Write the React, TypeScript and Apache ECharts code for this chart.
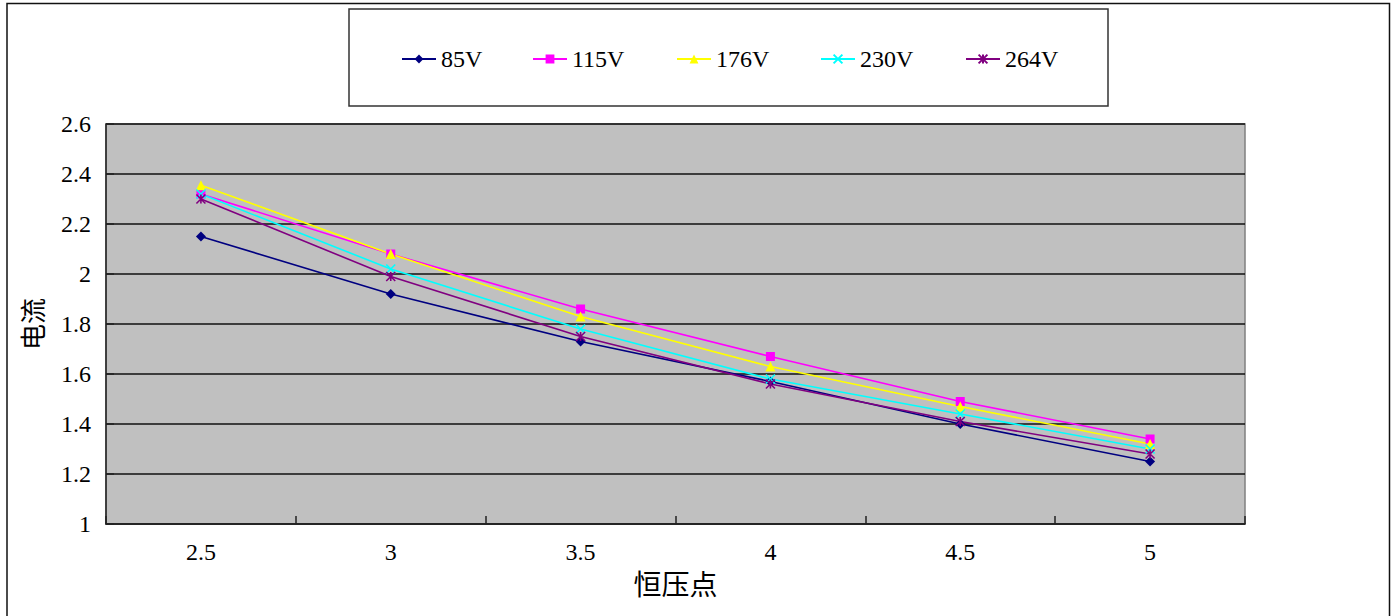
import React, { useEffect, useRef } from "react";
import * as echarts from "echarts";

const categories = ["2.5", "3", "3.5", "4", "4.5", "5"];
const seriesNames = ["85V", "115V", "176V", "230V", "264V"];
const v85 = [2.15, 1.92, 1.73, 1.57, 1.4, 1.25];
const v115 = [2.32, 2.08, 1.86, 1.67, 1.49, 1.34];
const v176 = [2.355, 2.08, 1.83, 1.63, 1.47, 1.32];
const v230 = [2.32, 2.02, 1.78, 1.58, 1.44, 1.3];
const v264 = [2.3, 1.99, 1.75, 1.56, 1.41, 1.28];
const seriesValues = [v85, v115, v176, v230, v264];
const colors = ["#000080", "#FF00FF", "#FFFF00", "#00FFFF", "#800080"];
const symbols = [
  "diamond",
  "rect",
  "triangle",
  "path://M0,0 L10,10 M10,0 L0,10",
  "path://M0,0 L10,10 M10,0 L0,10 M5,0 L5,10",
];
const symbolSizes = [10, 9, 10, 9, 9];
const legendLefts = [396, 527, 671, 815, 960];

const SERIF = "Liberation Serif";
const CJK = "Noto Sans CJK SC";

const labelRich = {
  t: { fontSize: 24, fontFamily: SERIF, color: "#000" },
};

export default function App() {
  const ref = useRef<HTMLDivElement>(null);
  useEffect(() => {
    if (!ref.current) return;
    const chart = echarts.init(ref.current, undefined, { renderer: "svg" });
    const series = seriesNames.map((name, i) => {
      const isStroke = i >= 3;
      return {
        name,
        type: "line",
        data: seriesValues[i],
        symbol: symbols[i],
        symbolSize: symbolSizes[i],
        showSymbol: true,
        lineStyle: { color: colors[i], width: 1.6 },
        itemStyle: isStroke
          ? { color: colors[i], borderColor: colors[i], borderWidth: 1.6 }
          : { color: colors[i], borderWidth: 0 },
        emphasis: { disabled: true },
      };
    });
    const legends = seriesNames.map((name, i) => ({
      data: [name],
      left: legendLefts[i],
      top: 42,
      orient: "horizontal",
      itemWidth: 34,
      itemHeight: 11,
      itemGap: 8,
      textStyle: { fontSize: 24, fontFamily: SERIF, color: "#000" },
      selectedMode: false,
    }));
    chart.setOption({
      animation: false,
      backgroundColor: "#fff",
      textStyle: { fontFamily: SERIF },
      graphic: [
        {
          type: "rect",
          shape: { x: 7, y: 3.5, width: 1382.5, height: 700 },
          style: { fill: "none", stroke: "#111", lineWidth: 1.5 },
          z: 100,
        },
        {
          type: "rect",
          shape: { x: 349, y: 9, width: 759, height: 97 },
          style: { fill: "none", stroke: "#333", lineWidth: 1.5 },
          z: 100,
        },
      ],
      legend: legends,
      grid: {
        left: 106,
        top: 124,
        width: 1139,
        height: 400,
        show: true,
        backgroundColor: "#C0C0C0",
        borderColor: "#808080",
        borderWidth: 1.5,
      },
      xAxis: {
        type: "category",
        data: categories,
        boundaryGap: true,
        name: "恒压点",
        nameLocation: "middle",
        nameGap: 42,
        nameTextStyle: { fontSize: 28, fontFamily: CJK, color: "#000" },
        axisLine: { show: true, lineStyle: { color: "#222", width: 1.5 } },
        axisTick: { show: true, inside: true, length: 8, lineStyle: { color: "#222", width: 1.5 } },
        axisLabel: {
          margin: 16,
          fontSize: 24,
          fontFamily: SERIF,
          color: "#000",
          formatter: (v: string) => "{t|" + v + "}",
          rich: labelRich,
        },
        splitLine: { show: false },
      },
      yAxis: {
        type: "value",
        min: 1,
        max: 2.6,
        interval: 0.2,
        name: "电流",
        nameLocation: "middle",
        nameRotate: 90,
        nameGap: 62,
        nameTextStyle: { fontSize: 26, fontFamily: CJK, color: "#000" },
        axisLine: { show: true, lineStyle: { color: "#222", width: 1.5 } },
        axisTick: { show: true, inside: true, length: 8, lineStyle: { color: "#222", width: 1.5 } },
        axisLabel: {
          margin: 15,
          fontSize: 24,
          fontFamily: SERIF,
          color: "#000",
          formatter: (v: number) => "{t|" + (Math.round(v * 10) / 10).toString() + "}",
          rich: labelRich,
        },
        splitLine: { show: true, lineStyle: { color: "#111", width: 1.5 } },
      },
      series,
    });
    return () => chart.dispose();
  }, []);
  return (
    <div
      ref={ref}
      style={{ position: "absolute", left: 0, top: 0, width: 1394, height: 616 }}
    />
  );
}
